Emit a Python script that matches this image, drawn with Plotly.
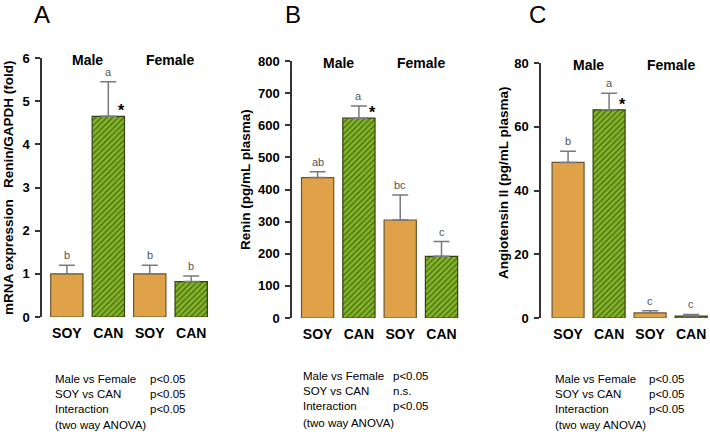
import plotly.graph_objects as go

# data
diet = ["SOY", "CAN", "SOY", "CAN"]

mrna_mean = [1.0, 4.65, 1.0, 0.82]
mrna_err = [0.2, 0.8, 0.2, 0.13]
mrna_letters = ["b", "a", "b", "b"]

renin_mean = [437, 622, 305, 192]
renin_err = [18, 38, 78, 46]
renin_letters = ["ab", "a", "bc", "c"]

ang_mean = [48.8, 65.3, 1.6, 0.6]
ang_err = [3.5, 5.2, 0.7, 0.5]
ang_letters = ["b", "a", "c", "c"]

stats_labels = ["Male vs Female", "SOY vs CAN", "Interaction"]
stats_A = ["p<0.05", "p<0.05", "p<0.05"]
stats_B = ["p<0.05", "n.s.", "p<0.05"]
stats_C = ["p<0.05", "p<0.05", "p<0.05"]

W, H = 710, 440
FONT = "Liberation Sans, Arial, sans-serif"
ORANGE = "#E0A248"
GREEN = "#86B42A"
DKGREEN = "#3F6A0C"


def px(x):
    return x / W


def py(y):
    return 1 - y / H


# panel geometry in pixels: axis x, right edge, top (max tick) y, zero y
panels = [
    dict(mean=mrna_mean, err=mrna_err, letters=mrna_letters, x0=42, x1=214, ytop=58, y0=317,
         xr=[-0.6, 3.55], yr=[0, 6], dtick=1, letter="A", lx=42,
         title="mRNA expression   Renin/GAPDH (fold)", tx=8, ty=188,
         sx=53, px_=148, stats=stats_A, sy=[394, 425]),
    dict(mean=renin_mean, err=renin_err, letters=renin_letters, x0=292, x1=463, ytop=61, y0=318,
         xr=[-0.62, 3.52], yr=[0, 800], dtick=100, letter="B", lx=293,
         title="Renin (pg/mL plasma)", tx=245, ty=180,
         sx=301, px_=391, stats=stats_B, sy=[391, 423]),
    dict(mean=ang_mean, err=ang_err, letters=ang_letters, x0=541, x1=710, ytop=63, y0=318,
         xr=[-0.66, 3.46], yr=[0, 80], dtick=20, letter="C", lx=537,
         title="Angiotensin II (pg/mL plasma)", tx=503, ty=183,
         sx=553, px_=647, stats=stats_C, sy=[394, 425]),
]

fig = go.Figure()
annotations = []
layout = {}

for i, p in enumerate(panels):
    n = "" if i == 0 else str(i + 1)
    xa, ya = "x" + n, "y" + n
    err_style = dict(type="data", symmetric=False, color="#7a7a7a", thickness=1.5, width=8)
    # SOY bars (plain orange)
    fig.add_trace(go.Bar(
        x=[0, 2], y=[p["mean"][0], p["mean"][2]], width=0.78, xaxis=xa, yaxis=ya,
        marker=dict(color=ORANGE, line=dict(color="#6b5632", width=1.2)),
        error_y=dict(array=[p["err"][0], p["err"][2]], arrayminus=[0, 0], **err_style),
        showlegend=False,
    ))
    # CAN bars (hatched green)
    fig.add_trace(go.Bar(
        x=[1, 3], y=[p["mean"][1], p["mean"][3]], width=0.78, xaxis=xa, yaxis=ya,
        marker=dict(color=GREEN, line=dict(color="#34420f", width=1.2),
                    pattern=dict(shape="/", fgcolor=DKGREEN, bgcolor=GREEN, size=4, solidity=0.3)),
        error_y=dict(array=[p["err"][1], p["err"][3]], arrayminus=[0, 0], **err_style),
        showlegend=False,
    ))
    layout["xaxis" + n] = dict(domain=[px(p["x0"]), px(p["x1"])], range=p["xr"], anchor=ya,
                               tickvals=[0, 1, 2, 3], ticktext=diet, showline=False, ticks="",
                               showgrid=False, zeroline=False, automargin=False,
                               ticklabelstandoff=6,
                               tickfont=dict(family=FONT, size=14, color="black", weight="bold"))
    layout["yaxis" + n] = dict(domain=[py(p["y0"]), py(p["ytop"])], range=p["yr"], anchor=xa,
                               dtick=p["dtick"], showline=True, linecolor="#333", linewidth=1.5,
                               ticks="outside", ticklen=5, tickwidth=1.5, tickcolor="#333",
                               showgrid=False, zeroline=False, automargin=False,
                               ticklabelstandoff=3,
                               tickfont=dict(family=FONT, size=13, color="black", weight="bold"))

    # significance letters above error bars
    for j in range(4):
        annotations.append(dict(x=j, y=p["mean"][j] + p["err"][j], xref=xa, yref=ya,
                                text=p["letters"][j], showarrow=False, yanchor="bottom", yshift=2,
                                font=dict(family=FONT, size=11, color="#555")))
    # asterisk on CAN male
    annotations.append(dict(x=1.32, y=p["mean"][1], xref=xa, yref=ya, text="*", showarrow=False,
                            yanchor="bottom", yshift=-5,
                            font=dict(family=FONT, size=16, color="black", weight="bold")))
    # sex labels
    for xs, lab in [(0.5, "Male"), (2.5, "Female")]:
        annotations.append(dict(x=xs, y=py(p["ytop"] + 2), xref=xa, yref="paper", text=lab,
                                showarrow=False, yanchor="middle", xanchor="center",
                                font=dict(family=FONT, size=14, color="black", weight="bold")))
    # panel letter
    annotations.append(dict(x=px(p["lx"]), y=py(14), xref="paper", yref="paper", text=p["letter"],
                            showarrow=False, yanchor="middle", xanchor="center",
                            font=dict(family=FONT, size=24, color="black")))
    # y title
    annotations.append(dict(x=px(p["tx"]), y=py(p["ty"]), xref="paper", yref="paper",
                            text=p["title"], textangle=-90, showarrow=False,
                            yanchor="middle", xanchor="center",
                            font=dict(family=FONT, size=13.5, color="black", weight="bold")))
    # two way ANOVA summary
    annotations.append(dict(x=px(p["sx"]), y=py(p["sy"][0]), xref="paper", yref="paper",
                            text="<br>".join(stats_labels), showarrow=False, align="left",
                            xanchor="left", yanchor="middle",
                            font=dict(family=FONT, size=11.5, color="black")))
    annotations.append(dict(x=px(p["px_"]), y=py(p["sy"][0]), xref="paper", yref="paper",
                            text="<br>".join(p["stats"]), showarrow=False, align="left",
                            xanchor="left", yanchor="middle",
                            font=dict(family=FONT, size=11.5, color="black")))
    annotations.append(dict(x=px(p["sx"]), y=py(p["sy"][1]), xref="paper", yref="paper",
                            text="(two way ANOVA)", showarrow=False, xanchor="left",
                            yanchor="middle", font=dict(family=FONT, size=11.5, color="black")))

fig.update_layout(
    template="none",
    barmode="overlay",
    width=W, height=H,
    margin=dict(l=0, r=0, t=0, b=0),
    paper_bgcolor="white", plot_bgcolor="white",
    annotations=annotations,
    **layout,
)

fig.write_html("out.html", config={"displayModeBar": False},
               post_script="document.body.style.margin='0';")
